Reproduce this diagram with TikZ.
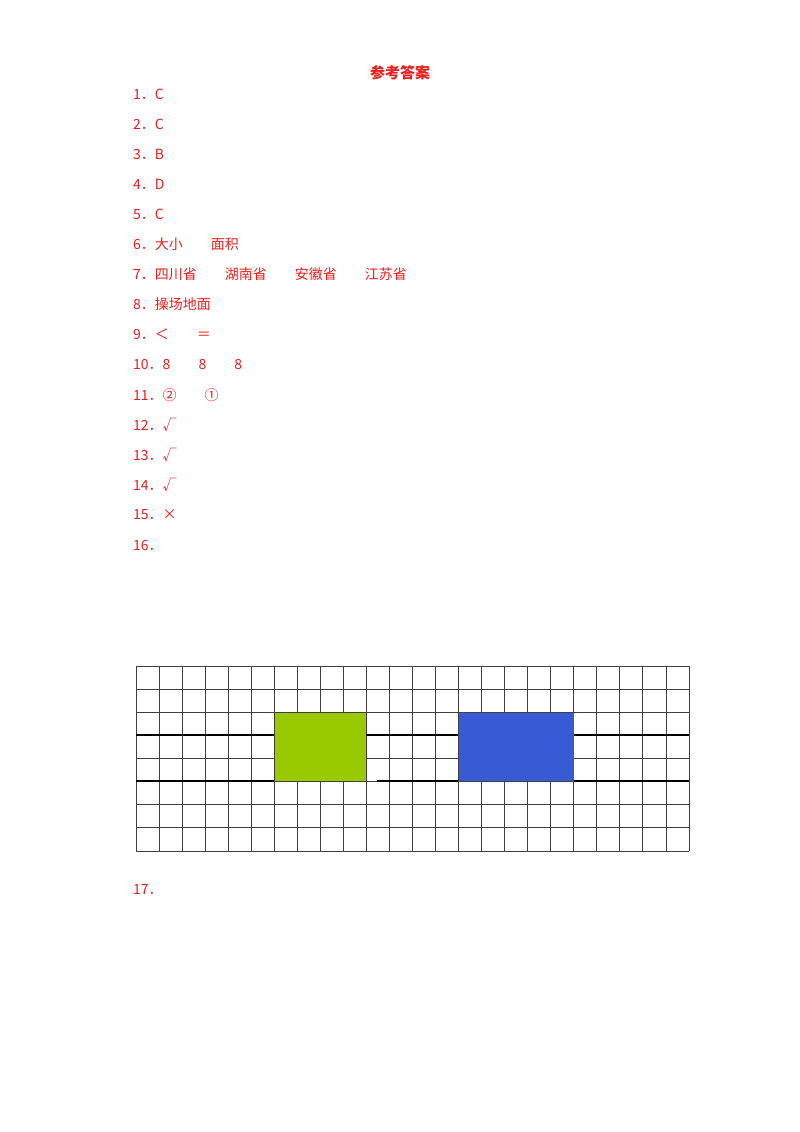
\documentclass[tikz,border=0pt]{standalone}
\usepackage{fontspec}
\newfontfamily\cjk{Noto Sans CJK SC}
\definecolor{ans}{RGB}{235,30,30}
\begin{document}
\begin{tikzpicture}[x=1pt,y=-1pt,
  line/.style={anchor=west,inner sep=0pt,font=\cjk\fontsize{14}{16}\selectfont,text=ans},
  gl/.style={draw=black!75,line width=0.8pt}]
\useasboundingbox[fill=white] (0,0) rectangle (800,1132);
\node[font=\cjk\bfseries\fontsize{15}{17}\selectfont,text=ans] (title) at (400,73) {参考答案};
\node[line] (a1) at (133,94) {1．C};
\node[line] (a2) at (133,124) {2．C};
\node[line] (a3) at (133,154) {3．B};
\node[line] (a4) at (133,184) {4．D};
\node[line] (a5) at (133,214) {5．C};
\node[line] (a6) at (133,244) {6．大小　　面积};
\node[line] (a7) at (133,274) {7．四川省　　湖南省　　安徽省　　江苏省};
\node[line] (a8) at (133,304) {8．操场地面};
\node[line] (a9) at (133,334) {9．＜　　＝};
\node[line] (a10) at (133,365) {10．8　　8　　8};
\node[line] (a11) at (133,395) {11．②　　①};
\node[line] (a12) at (133,425) {12．√};
\node[line] (a13) at (133,455) {13．√};
\node[line] (a14) at (133,485) {14．√};
\node[line] (a15) at (133,515) {15．×};
\node[line] (a16) at (133,546) {16．};
\node[line] (a17) at (133,889) {17．};
\fill[fill={rgb,255:red,153;green,202;blue,0}] (274,712) rectangle (366,781);
\fill[fill={rgb,255:red,56;green,90;blue,212}] (458,712) rectangle (574,781);
\foreach \i in {0,...,24} \draw[gl] ({136+\i*23.04},666) -- ({136+\i*23.04},851);
\foreach \j in {0,...,8} \draw[gl] (136,{666+\j*23.125}) -- (689,{666+\j*23.125});
\fill[fill={rgb,255:red,153;green,202;blue,0}] (274.6,712.6) rectangle (365.6,780.6);
\fill[fill={rgb,255:red,56;green,90;blue,212}] (458.6,712.6) rectangle (573.6,780.6);
\draw[black,line width=1.2pt] (136,735) -- (274,735) (366,735)--(458,735) (574,735)--(689,735);
\draw[black,line width=1.2pt] (136,781) -- (274,781) (377,781)--(458,781) (574,781)--(689,781);
\end{tikzpicture}
\end{document}
